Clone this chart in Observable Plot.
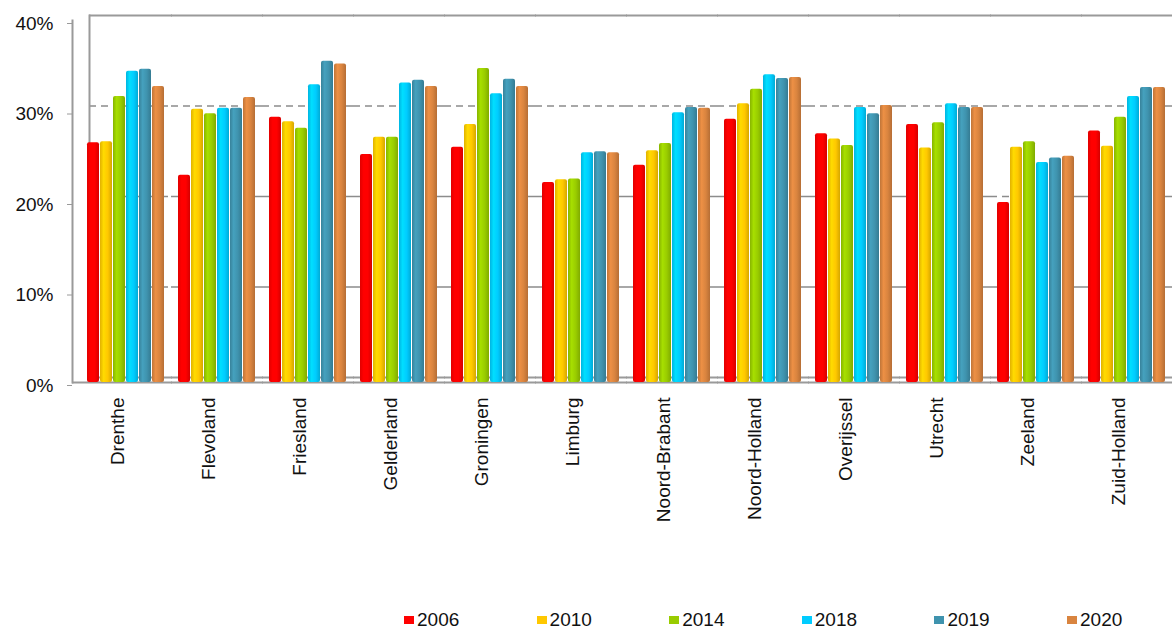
<!DOCTYPE html>
<html>
<head>
<meta charset="utf-8">
<script src="https://cdn.jsdelivr.net/npm/d3@7"></script>
<script src="https://cdn.jsdelivr.net/npm/@observablehq/plot@0.6"></script>
<style>
  html, body { margin: 0; padding: 0; background: #fff; }
  #wrap { width: 1172px; height: 630px; position: relative; overflow: hidden; font-family: "Liberation Sans", Arial, sans-serif; }
  #legend { position: absolute; left: 0; top: 608px; width: 1172px; height: 24px; }
  .item { position: absolute; top: 0; height: 24px; display: flex; align-items: center; font-size: 19px; color: #111; }
  .sw { width: 10px; height: 8px; margin-right: 3px; }
</style>
</head>
<body>
<div id="wrap"><div id="chart"></div><div id="legend"></div></div>
<script>
const regions = ["Drenthe","Flevoland","Friesland","Gelderland","Groningen","Limburg","Noord-Brabant","Noord-Holland","Overijssel","Utrecht","Zeeland","Zuid-Holland"];
const years = ["2006","2010","2014","2018","2019","2020"];
const v2006 = [26.5,22.9,29.3,25.2,26.0,22.1,24.0,29.1,27.5,28.5,19.9,27.8];
const v2010 = [26.6,30.2,28.8,27.1,28.5,22.4,25.6,30.8,26.9,25.9,26.0,26.1];
const v2014 = [31.6,29.7,28.1,27.1,34.7,22.5,26.4,32.4,26.2,28.7,26.6,29.3];
const v2018 = [34.4,30.3,32.9,33.1,31.9,25.4,29.8,34.0,30.4,30.8,24.3,31.6];
const v2019 = [34.6,30.3,35.5,33.4,33.5,25.5,30.4,33.6,29.7,30.4,24.8,32.6];
const v2020 = [32.7,31.5,35.2,32.7,32.7,25.4,30.3,33.7,30.6,30.4,25.0,32.6];
const yTicks = [0,10,20,30,40];
const colors = ["#ff0000","#ffc800","#99cc00","#00ccff","#3f93ae","#d9843f"];

const series = [v2006,v2010,v2014,v2018,v2019,v2020];
const data = [];
regions.forEach((r, i) => years.forEach((y, j) => data.push({region: r, year: y, value: series[j][i]})));

// per-facet gridline rows (so lines run across every group)
const grid = regions.flatMap(r => yTicks.map(t => ({region: r, v: t})));
const first = d => d.region === regions[0];
const rest = d => d.region !== regions[0];
const dashed = d => d.v > 0 && d.v < 40;

const shade = (c, k) => d3.rgb(c).darker(k).formatHex();
const bright = (c, k) => d3.rgb(c).brighter(k).formatHex();

const plot = Plot.plot({
  width: 1172,
  height: 600,
  marginTop: 20,
  marginBottom: 218,
  marginLeft: 80,
  marginRight: 0,
  style: {fontFamily: "'Liberation Sans', Arial, sans-serif", fontSize: "19px", color: "#111", background: "transparent"},
  fx: {domain: regions, paddingInner: 0.1, paddingOuter: 0.033, label: null},
  x: {domain: years, padding: 0.06, axis: null},
  y: {domain: [0, 40], axis: null},
  color: {type: "identity"},
  marks: [
    // back wall dashed gridlines
    Plot.ruleY(grid.filter(d => rest(d) && dashed(d)), {fx: "region", y: "v", insetLeft: -5, insetRight: -5, dy: -5, stroke: "#8c8c8c", strokeWidth: 1.6, strokeDasharray: "7,5"}),
    Plot.ruleY(grid.filter(d => first(d) && dashed(d)), {fx: "region", y: "v", insetLeft: 4, insetRight: -5, dy: -5, stroke: "#8c8c8c", strokeWidth: 1.6, strokeDasharray: "7,5"}),
    // back wall top and floor back edge
    Plot.ruleY(grid.filter(d => rest(d) && !dashed(d)), {fx: "region", y: "v", insetLeft: -5, insetRight: -5, dy: -5, stroke: "#9a9a9a", strokeWidth: 2.2}),
    Plot.ruleY(grid.filter(d => first(d) && !dashed(d)), {fx: "region", y: "v", insetLeft: 4, insetRight: -5, dy: -5, stroke: "#9a9a9a", strokeWidth: 2.2}),
    // floor front edge
    Plot.ruleY(grid.filter(d => rest(d) && d.v === 0), {fx: "region", y: "v", insetLeft: -5, insetRight: -5, stroke: "#9a9a9a", strokeWidth: 2}),
    Plot.ruleY(grid.filter(d => first(d) && d.v === 0), {fx: "region", y: "v", insetLeft: -13, insetRight: -5, stroke: "#9a9a9a", strokeWidth: 2}),
    // back wall left edge and front axis line
    Plot.frame({anchor: "left", facetAnchor: "left", dx: 4, dy: -5, stroke: "#9a9a9a", strokeWidth: 2}),
    Plot.frame({anchor: "left", facetAnchor: "left", dx: -13, stroke: "#9a9a9a", strokeWidth: 2}),
    Plot.barY(data, {fx: "region", x: "year", y: "value", fill: d => `url(#g${d.year})`, rx: 2}),
    Plot.axisY({ticks: yTicks, tickFormat: d => d + "%", tickSize: 5, tickPadding: 14, dx: -13, dy: 3, stroke: "#9a9a9a", fill: "#111", fontSize: 19, label: null}),
    Plot.axisFx({anchor: "bottom", tickRotate: -90, tickSize: 0, tickPadding: 15, dx: -9, fontSize: 19, fill: "#111", label: null})
  ]
});

const svg = d3.select(plot);
const defs = svg.insert("defs", ":first-child");
years.forEach((y, j) => {
  const c = colors[j];
  const g = defs.append("linearGradient").attr("id", "g" + y).attr("x1", "0").attr("x2", "1").attr("y1", "0").attr("y2", "0");
  g.append("stop").attr("offset", "0%").attr("stop-color", shade(c, 0.35));
  g.append("stop").attr("offset", "30%").attr("stop-color", bright(c, 0.25));
  g.append("stop").attr("offset", "65%").attr("stop-color", c);
  g.append("stop").attr("offset", "100%").attr("stop-color", shade(c, 0.5));
});
document.getElementById("chart").appendChild(plot);

const legend = document.getElementById("legend");
years.forEach((y, j) => {
  const it = document.createElement("div");
  it.className = "item";
  it.style.left = (404 + j * 132.6) + "px";
  const sw = document.createElement("span");
  sw.className = "sw";
  sw.style.background = colors[j];
  it.appendChild(sw);
  it.appendChild(document.createTextNode(y));
  legend.appendChild(it);
});
</script>
</body>
</html>
